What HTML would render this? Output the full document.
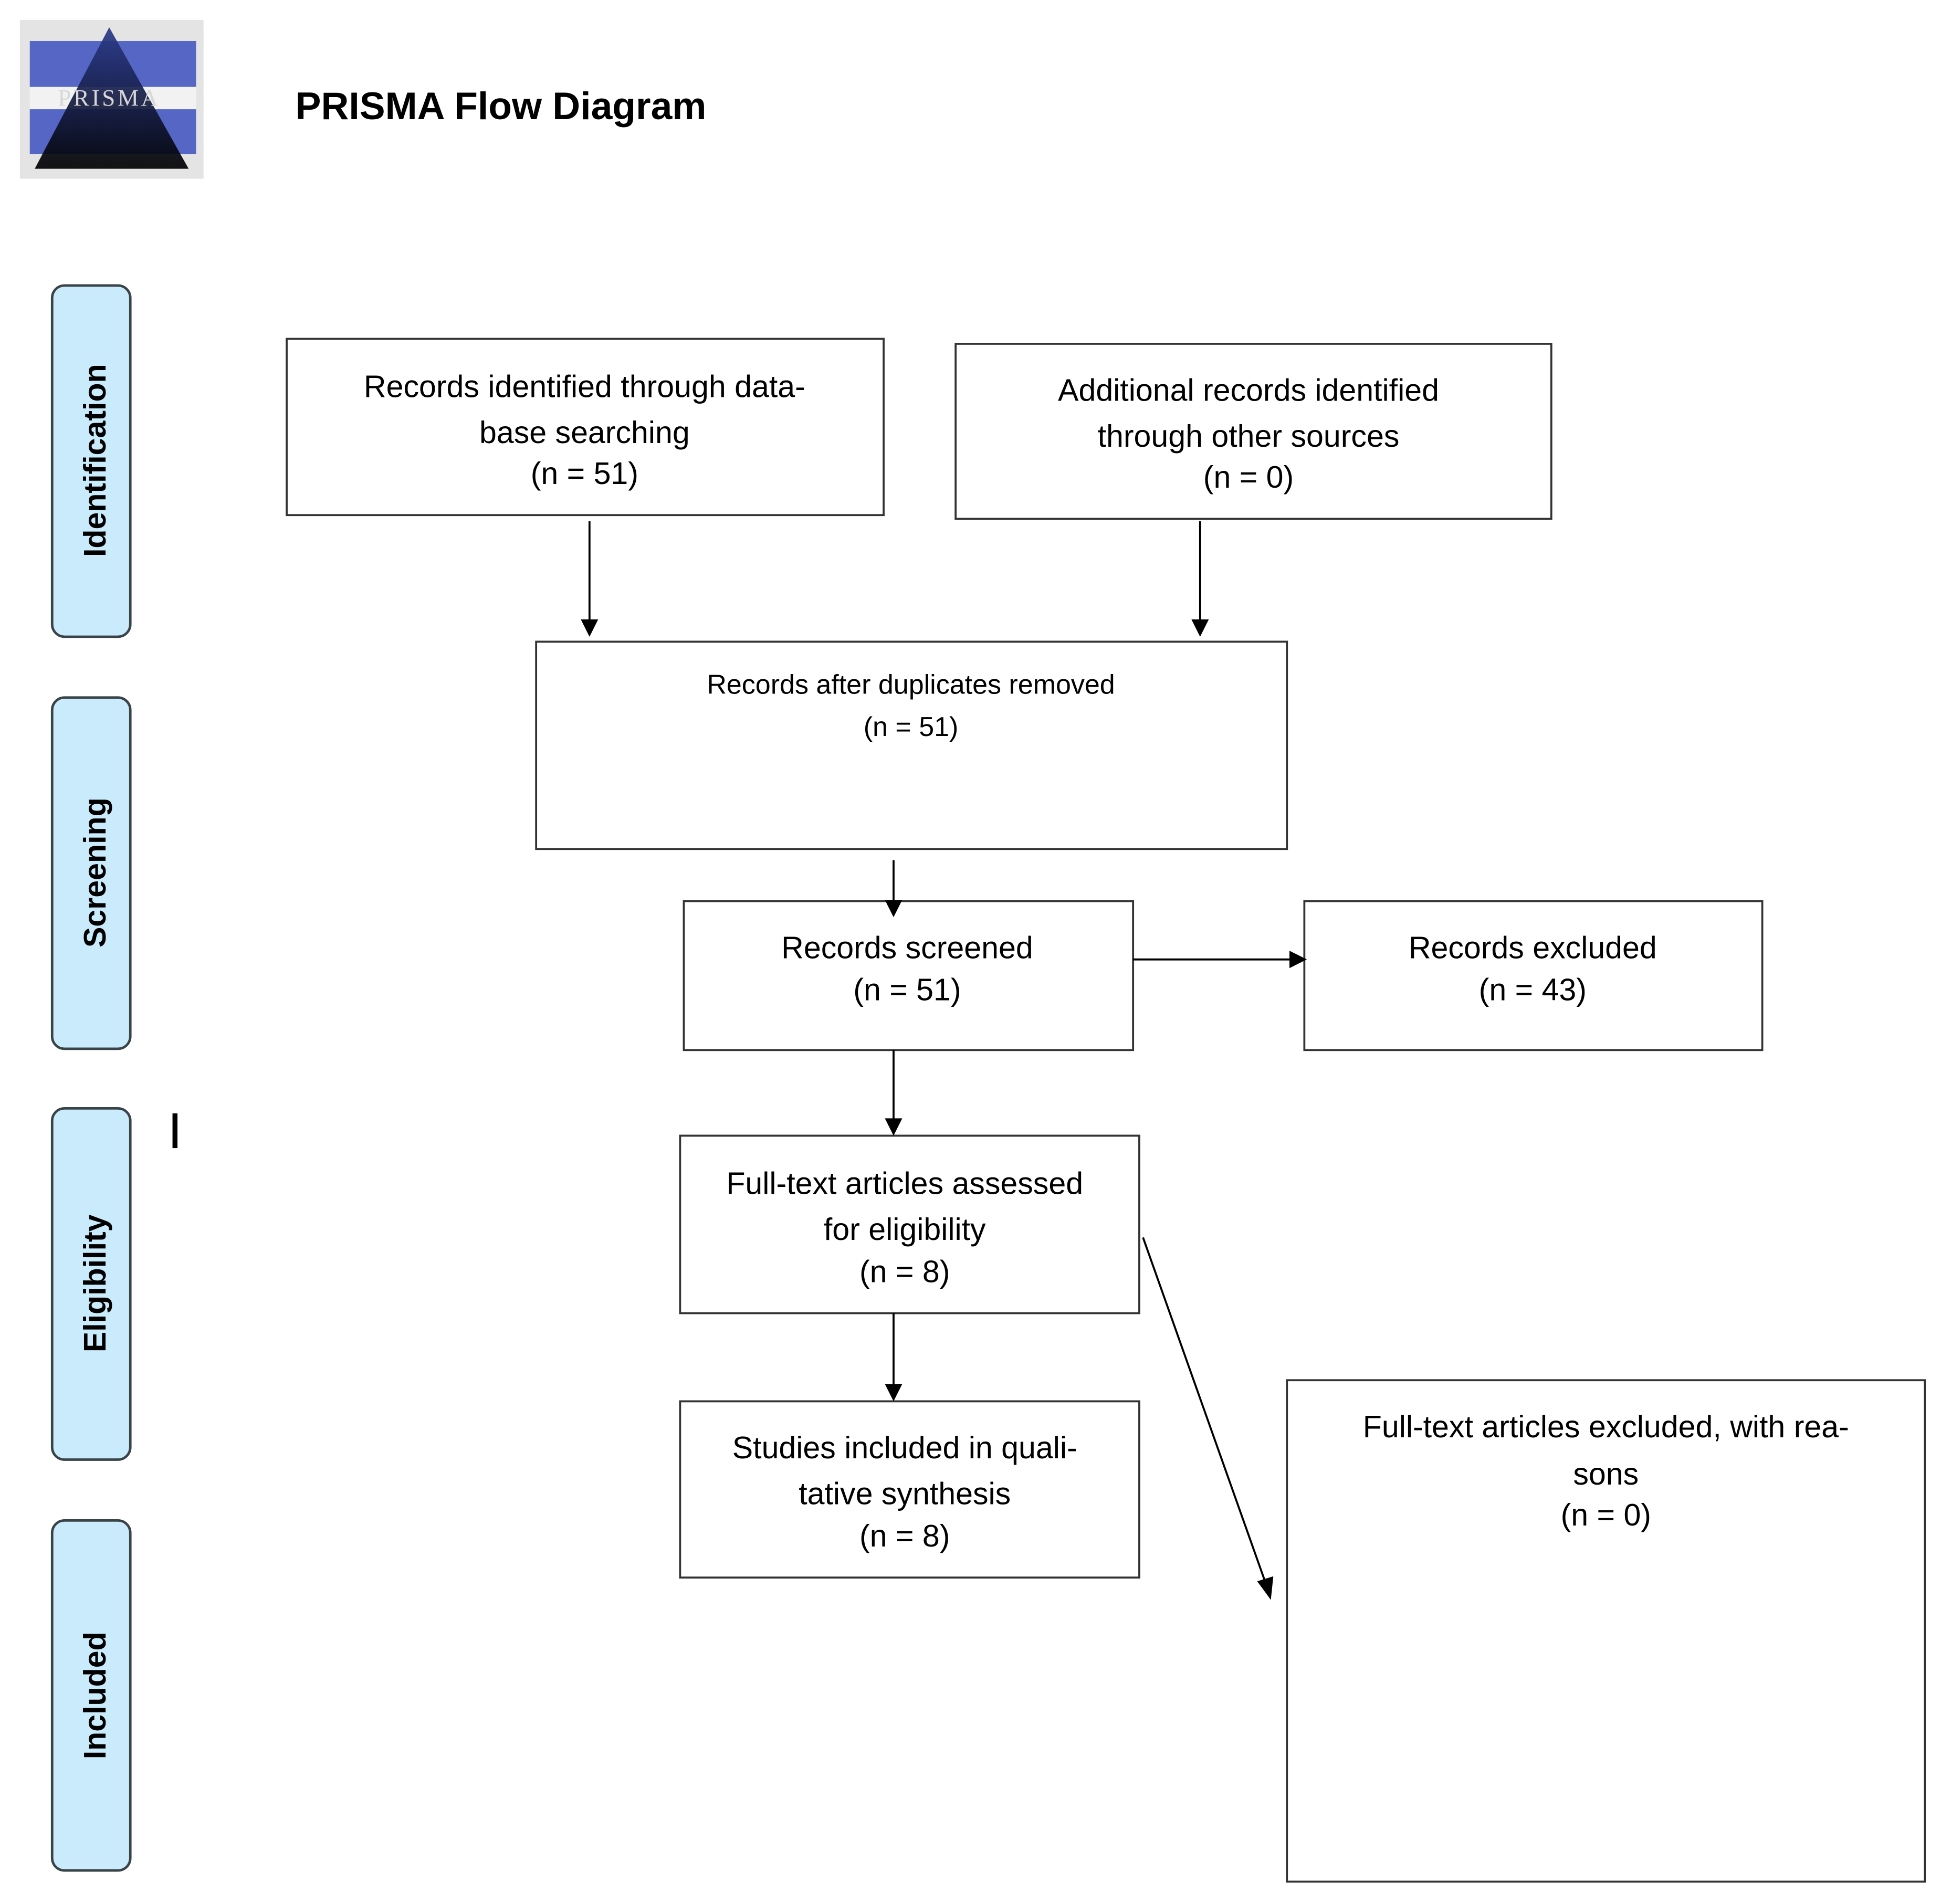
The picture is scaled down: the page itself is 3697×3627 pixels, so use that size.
<!DOCTYPE html>
<html><head><meta charset="utf-8"><style>
html,body{margin:0;padding:0;background:#fff;}
svg{display:block;}
text{font-family:"Liberation Sans",sans-serif;fill:#000;}
</style></head><body>
<svg width="3697" height="3627" viewBox="0 0 1564 1534" preserveAspectRatio="none" xmlns="http://www.w3.org/2000/svg">
<defs>
<linearGradient id="tri" x1="0" y1="0" x2="0" y2="1">
<stop offset="0" stop-color="#2a3a8a"/><stop offset="1" stop-color="#000"/>
</linearGradient>
</defs>
<rect width="1564" height="1534" fill="#fff"/>
<!-- logo -->
<rect x="16" y="16" width="148" height="128" fill="#e4e4e4"/>
<rect x="24" y="33" width="134" height="37" fill="#5566c4"/>
<rect x="24" y="88" width="134" height="36" fill="#5566c4"/>
<rect x="24" y="70" width="134" height="18" fill="#f2f2f2"/>
<polygon points="88,22 28,136 152,136" fill="url(#tri)" opacity="0.92"/>
<text x="88" y="85" font-family="Liberation Serif" font-size="19" fill="#ccc" text-anchor="middle" style="fill:#d8d8d8;font-family:'Liberation Serif',serif" letter-spacing="2">PRISMA</text>
<text x="238" y="96" font-size="31" font-weight="bold">PRISMA Flow Diagram</text>
<!-- side tabs -->
<g fill="#c9ebfb" stroke="#3a4448" stroke-width="2">
<rect x="42" y="230" width="63" height="283" rx="10"/>
<rect x="42" y="562" width="63" height="283" rx="10"/>
<rect x="42" y="893" width="63" height="283" rx="10"/>
<rect x="42" y="1225" width="63" height="282" rx="10"/>
</g>
<g font-size="25" font-weight="bold" text-anchor="middle">
<text transform="translate(85,371) rotate(-90)">Identification</text>
<text transform="translate(85,703) rotate(-90)">Screening</text>
<text transform="translate(85,1034) rotate(-90)">Eligibility</text>
<text transform="translate(85,1366) rotate(-90)">Included</text>
</g>
<rect x="139" y="897" width="4" height="28" fill="#000"/>
<!-- boxes -->
<g fill="#fff" stroke="#333" stroke-width="1.6">
<rect x="231" y="273" width="481" height="142"/>
<rect x="770" y="277" width="480" height="141"/>
<rect x="432" y="517" width="605" height="167"/>
<rect x="551" y="726" width="362" height="120"/>
<rect x="1051" y="726" width="369" height="120"/>
<rect x="548" y="915" width="370" height="143"/>
<rect x="548" y="1129" width="370" height="142"/>
<rect x="1037" y="1112" width="514" height="404"/>
</g>
<g font-size="25" text-anchor="middle">
<text x="471" y="320">Records identified through data-</text>
<text x="471" y="357">base searching</text>
<text x="471" y="390">(n = 51)</text>
<text x="1006" y="323">Additional records identified</text>
<text x="1006" y="360">through other sources</text>
<text x="1006" y="393">(n = 0)</text>
<text x="734" y="559" font-size="22">Records after duplicates removed</text>
<text x="734" y="593" font-size="22">(n = 51)</text>
<text x="731" y="772">Records screened</text>
<text x="731" y="806">(n = 51)</text>
<text x="1235" y="772">Records excluded</text>
<text x="1235" y="806">(n = 43)</text>
<text x="729" y="962">Full-text articles assessed</text>
<text x="729" y="999">for eligibility</text>
<text x="729" y="1033">(n = 8)</text>
<text x="729" y="1175">Studies included in quali-</text>
<text x="729" y="1212">tative synthesis</text>
<text x="729" y="1246">(n = 8)</text>
<text x="1294" y="1158">Full-text articles excluded, with rea-</text>
<text x="1294" y="1196">sons</text>
<text x="1294" y="1229">(n = 0)</text>
</g>
<!-- connectors -->
<g stroke="#000" stroke-width="1.6" fill="none">
<line x1="475" y1="420" x2="475" y2="502"/>
<line x1="967" y1="420" x2="967" y2="502"/>
<line x1="720" y1="693" x2="720" y2="727"/>
<line x1="913" y1="773" x2="1040" y2="773"/>
<line x1="720" y1="846" x2="720" y2="903"/>
<line x1="720" y1="1058" x2="720" y2="1117"/>
<line x1="921" y1="997" x2="1020" y2="1276"/>
</g>
<g fill="#000">
<polygon points="468,499 482,499 475,513"/>
<polygon points="960,499 974,499 967,513"/>
<polygon points="713,725 727,725 720,739"/>
<polygon points="1039,766 1039,780 1053,773"/>
<polygon points="713,901 727,901 720,915"/>
<polygon points="713,1115 727,1115 720,1129"/>
<polygon points="1013,1274 1026,1270 1024,1289"/>
</g>
</svg>
</body></html>
